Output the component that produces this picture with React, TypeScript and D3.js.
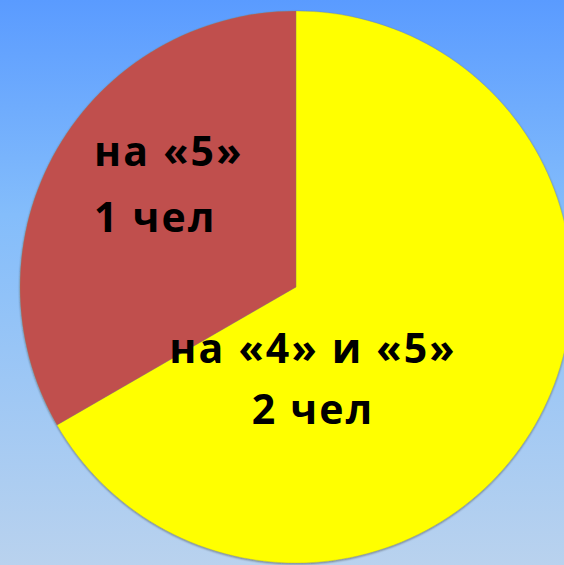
import React from "react";
import * as d3 from "d3";

const categories = ["на «4» и «5»", "на «5»"];
const values = [2, 1];
const countLabels = ["2 чел", "1 чел"];
const colors = ["#FFFF00", "#C0504D"];

const W = 564;
const H = 565;
const CX = 296;
const CY = 287;
const R = 276;

// label anchor offsets relative to pie center (layout only)
const labelLayout = [
  { dx: 17, dy: 76, gap: 61, anchor: "middle" },
  { dx: -202, dy: -121, gap: 66, anchor: "start" },
];

export default function App() {
  const pie = d3.pie<number>().sort(null).value((d) => d)(values);
  const arc = d3.arc<d3.PieArcDatum<number>>().innerRadius(0).outerRadius(R);
  return (
    <svg
      width={W}
      height={H}
      style={{ position: "absolute", left: 0, top: 0 }}
      xmlns="http://www.w3.org/2000/svg"
    >
      <defs>
        <linearGradient id="bg" x1="0" y1="0" x2="0" y2="1">
          <stop offset="0" stopColor="#5A9BFF" />
          <stop offset="0.38" stopColor="#84BDFB" />
          <stop offset="1" stopColor="#B9D2EE" />
        </linearGradient>
        <filter id="sh" x="-10%" y="-10%" width="120%" height="120%">
          <feGaussianBlur in="SourceAlpha" stdDeviation="1.2" />
          <feOffset dx="0" dy="1" result="b" />
          <feComponentTransfer>
            <feFuncA type="linear" slope="0.45" />
          </feComponentTransfer>
          <feMerge>
            <feMergeNode />
            <feMergeNode in="SourceGraphic" />
          </feMerge>
        </filter>
      </defs>
      <rect x={0} y={0} width={W} height={H} fill="url(#bg)" />
      <g transform={`translate(${CX},${CY})`} filter="url(#sh)">
        {pie.map((p, i) => (
          <path key={i} d={arc(p) || ""} fill={colors[i]} stroke="#8a8a60" strokeOpacity={0.35} strokeWidth={0.8} />
        ))}
      </g>
      <g
        transform={`translate(${CX},${CY})`}
        fontFamily="'Open Sans', sans-serif"
        fontWeight="bold"
        fontSize={41}
        letterSpacing={2.2}
        fill="#000"
      >
        {categories.map((c, i) => {
          const L = labelLayout[i];
          return (
            <text key={i} x={L.dx} y={L.dy} textAnchor={L.anchor as any}>
              <tspan x={L.dx} dy={0}>{c}</tspan>
              <tspan x={L.dx} dy={L.gap}>{countLabels[i]}</tspan>
            </text>
          );
        })}
      </g>
    </svg>
  );
}
